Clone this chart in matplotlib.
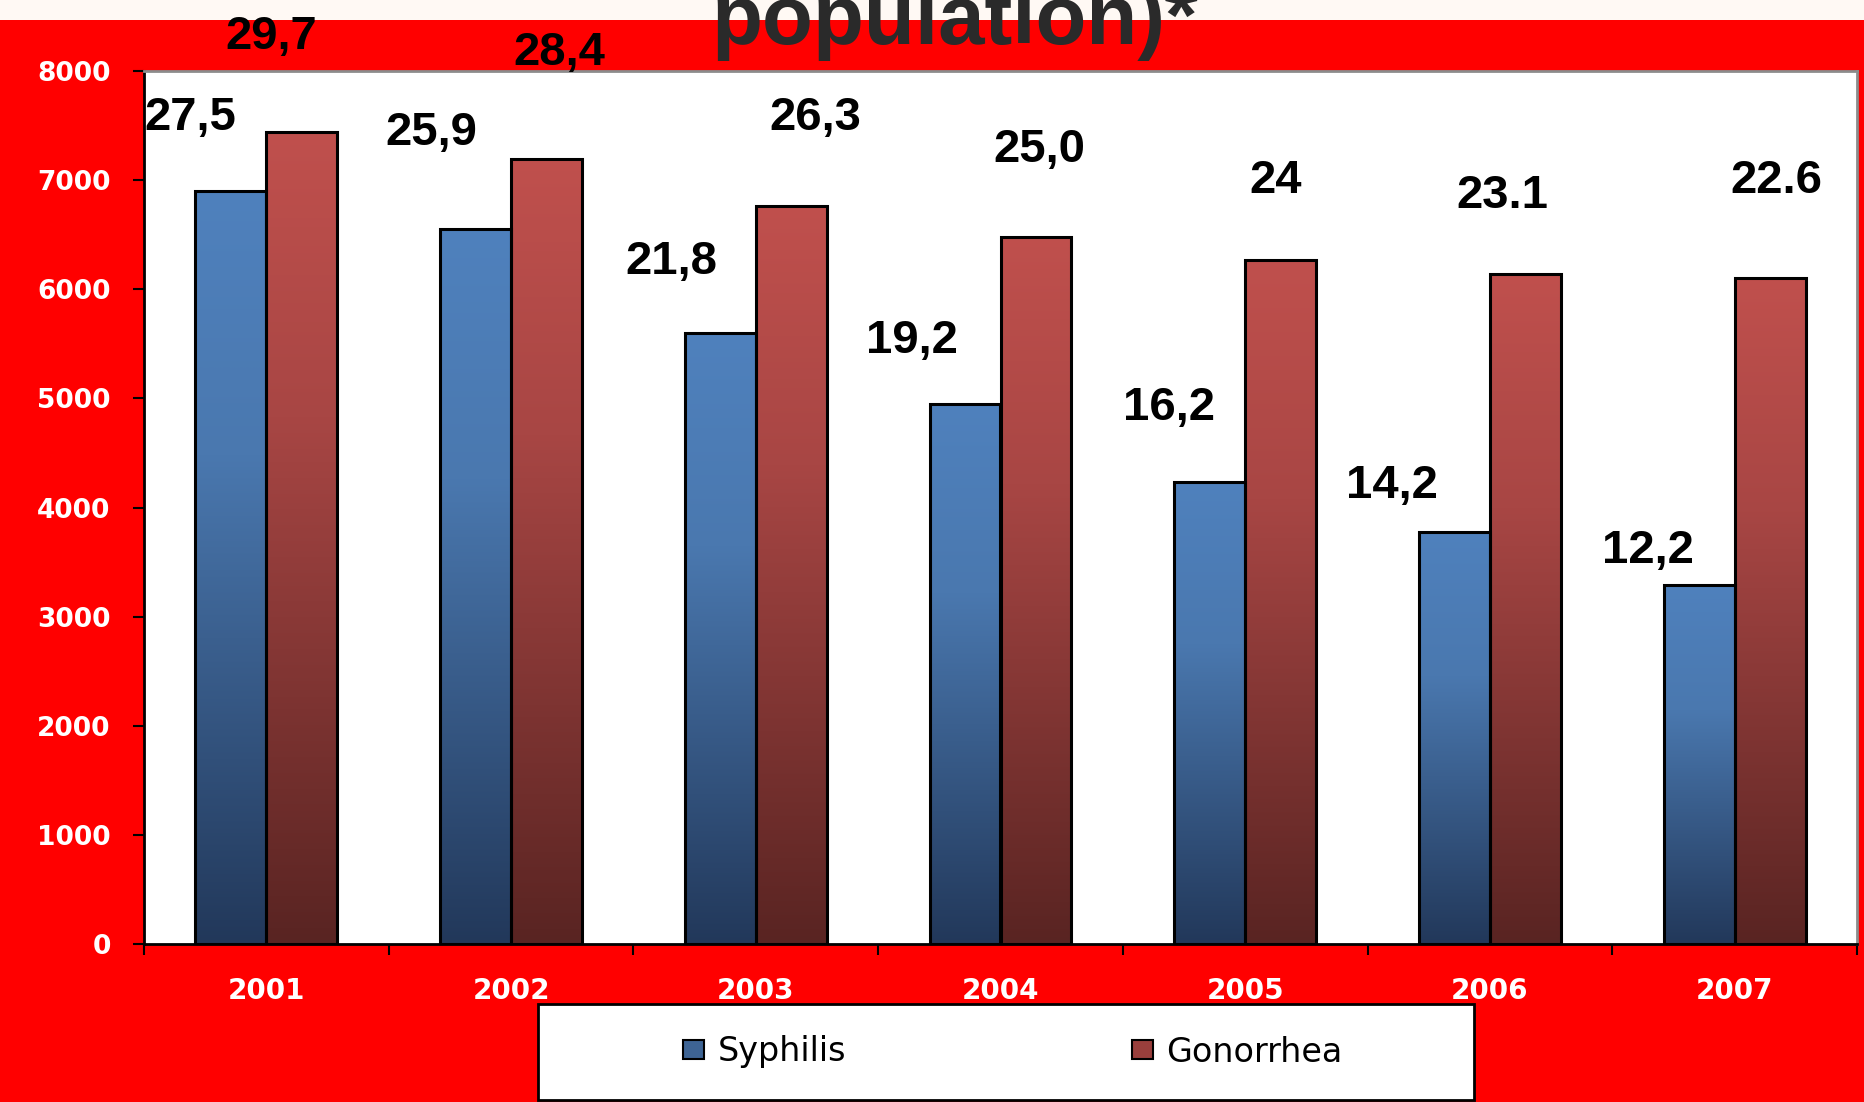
import numpy as np
import matplotlib.pyplot as plt
from matplotlib.colors import LinearSegmentedColormap
from matplotlib.patches import Patch, Rectangle

# data
years = ['2001', '2002', '2003', '2004', '2005', '2006', '2007']
syphilis = [6900, 6550, 5600, 4950, 4230, 3780, 3290]
gonorrhea = [7440, 7190, 6760, 6480, 6270, 6140, 6100]
syph_rates = ['27,5', '25,9', '21,8', '19,2', '16,2', '14,2', '12,2']
gono_rates = ['29,7', '28,4', '26,3', '25,0', '24', '23.1', '22.6']

# hand placed rate labels (x offset from category, baseline y in data units)
syph_lab_dx = [-0.311, -0.327, -0.343, -0.361, -0.313, -0.400, -0.354]
syph_lab_y = [7460, 7322, 6141, 5416, 4802, 4083, 3491]
gono_lab_dx = [0.021, 0.196, 0.244, 0.158, 0.124, 0.052, 0.169]
gono_lab_y = [8202, 8055, 7459, 7166, 6882, 6740, 6882]

red = '#FF0000'
blue_cm = LinearSegmentedColormap.from_list('b', [(0, '#22385A'), (0.65, '#4A78AF'), (1, '#4F81BD')])
red_cm = LinearSegmentedColormap.from_list('r', [(0, '#592422'), (0.65, '#A84644'), (1, '#C0504D')])

fig = plt.figure(figsize=(18.64, 11.02), dpi=100, facecolor=red)
fig.patches.append(Rectangle((0, 1 - 20/1102), 1, 20/1102, transform=fig.transFigure,
                             facecolor='#FFF9F4', edgecolor='none', zorder=-5))
fig.text(0.512, 0.960, 'population)*', ha='center', va='baseline', fontsize=60,
         fontweight='bold', family='Liberation Sans', color='#2A2A2A', zorder=5)

ax = fig.add_axes([144/1864, 158/1102, 1713/1864, 873/1102])
ax.set_facecolor('white')

x = np.arange(len(years))
w = 0.29
b1 = ax.bar(x - w/2, syphilis, w, facecolor='none', edgecolor='black', linewidth=2.2, zorder=3)
b2 = ax.bar(x + w/2, gonorrhea, w, facecolor='none', edgecolor='black', linewidth=2.2, zorder=3)

grad = np.linspace(0, 1, 256).reshape(-1, 1)
for bars, cm in ((b1, blue_cm), (b2, red_cm)):
    for r in bars:
        x0, h = r.get_x(), r.get_height()
        ax.imshow(grad, extent=[x0, x0 + r.get_width(), 0, h], origin='lower',
                  cmap=cm, aspect='auto', zorder=2)

for i in range(len(years)):
    ax.text(i + syph_lab_dx[i], syph_lab_y[i], syph_rates[i], ha='center', va='baseline',
            fontsize=34, fontweight='bold', family='Liberation Sans', color='black', zorder=6)
    ax.text(i + gono_lab_dx[i], gono_lab_y[i], gono_rates[i], ha='center', va='baseline',
            fontsize=34, fontweight='bold', family='Liberation Sans', color='black', zorder=6)

ax.set_xlim(-0.5, 6.5)
ax.set_ylim(0, 8000)
ax.set_yticks(range(0, 8001, 1000))
ax.set_xticks(np.arange(-0.5, 7, 1))
ax.set_xticklabels([])
ax.set_xticks(x, minor=True)
ax.set_xticklabels(years, minor=True)
ax.tick_params(axis='x', which='major', direction='out', length=8, width=1.5, color='black')
ax.tick_params(axis='x', which='minor', length=0, pad=24, labelsize=20, labelcolor='white')
ax.tick_params(axis='y', direction='out', length=8, width=1.5, color='black', pad=16,
               labelsize=19, labelcolor='white')
for lab in ax.get_xticklabels(minor=True) + ax.get_yticklabels():
    lab.set_fontweight('bold')

ax.spines['left'].set_color('black')
ax.spines['bottom'].set_color('black')
ax.spines['top'].set_color('#8C8C8C')
ax.spines['right'].set_color('#8C8C8C')
for s in ax.spines.values():
    s.set_linewidth(2)

# legend box
fig.patches.append(Rectangle((538/1864, 2/1102), 936/1864, 96/1102, transform=fig.transFigure,
                             facecolor='white', edgecolor='black', linewidth=2, zorder=1))
handles = [Patch(facecolor='#3E6494', edgecolor='black', linewidth=1.5),
           Patch(facecolor='#9A3F3C', edgecolor='black', linewidth=1.5)]
leg = fig.legend(handles, ['Syphilis', 'Gonorrhea'], loc='center', bbox_to_anchor=(1013/1864, 1 - 1052/1102),
                 ncol=2, frameon=False, fontsize=24, handlelength=0.63, handleheight=0.51,
                 handletextpad=0.39, columnspacing=8.6)
leg.set_zorder(4)

fig.savefig('out.png', dpi=100, facecolor=red)
